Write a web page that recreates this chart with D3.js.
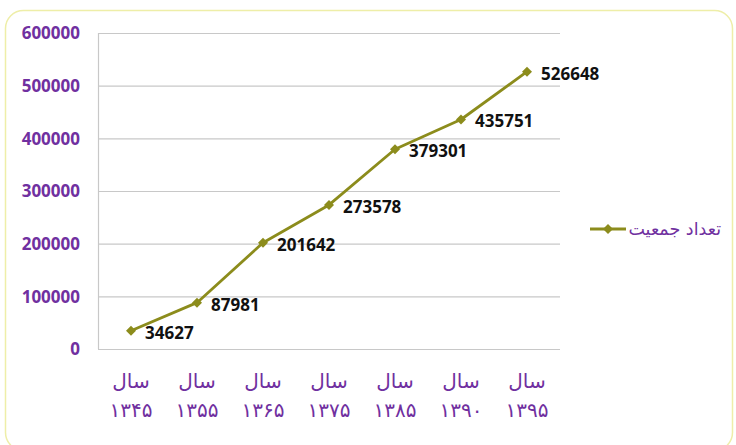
<!DOCTYPE html>
<html><head><meta charset="utf-8">
<script src="https://cdn.jsdelivr.net/npm/d3@7"></script>
<style>
html,body{margin:0;padding:0;background:#fff;}
</style></head>
<body>
<svg id="c" width="736" height="445"></svg>
<script>
const years = ["۱۳۴۵","۱۳۵۵","۱۳۶۵","۱۳۷۵","۱۳۸۵","۱۳۹۰","۱۳۹۵"];
const yearPrefix = "سال";
const population = [34627, 87981, 201642, 273578, 379301, 435751, 526648];
const yTicks = [0, 100000, 200000, 300000, 400000, 500000, 600000];
const seriesName = "تعداد جمعیت";

const svg = d3.select("#c");
const purple = "#7030a0", olive = "#8c8c1c";
const numFont = "'Open Sans', 'Liberation Sans', sans-serif";

svg.append("rect").attr("x",5.5).attr("y",10.5).attr("width",727).attr("height",440)
  .attr("rx",18).attr("fill","#fff").attr("stroke","#eeeea8").attr("stroke-width",1.5);

const x = d3.scaleBand().domain(years).range([98,560]);
const y = d3.scaleLinear().domain([0,600000]).range([349,33]);

// gridlines
svg.append("g").selectAll("line").data(yTicks).join("line")
  .attr("x1",98).attr("x2",560).attr("y1",d=>y(d)+0.5).attr("y2",d=>y(d)+0.5)
  .attr("stroke","#c8c8c8").attr("stroke-width",1.2);
svg.append("line").attr("x1",98.5).attr("x2",98.5).attr("y1",y(600000)).attr("y2",y(0))
  .attr("stroke","#c8c8c8").attr("stroke-width",1.2);

// y axis labels
const yAxis = d3.axisLeft(y).tickValues(yTicks).tickFormat(d=>String(d)).tickSize(0).tickPadding(18);
const ga = svg.append("g").attr("transform","translate(98,0)").call(yAxis);
ga.select(".domain").remove();
ga.selectAll("text").attr("fill",purple).attr("font-family",numFont)
  .attr("font-size",17).attr("font-weight","bold").attr("dy","0.35em");

// x axis labels
const gx = svg.append("g");
gx.selectAll("text.l1").data(years).join("text").attr("class","l1")
  .attr("x",d=>x(d)+x.bandwidth()/2).attr("y",381).attr("dy","0.35em")
  .attr("text-anchor","middle").attr("fill",purple)
  .attr("font-family","'DejaVu Sans', sans-serif").attr("font-size",20).text(yearPrefix);
gx.selectAll("text.l2").data(years).join("text").attr("class","l2")
  .attr("x",d=>x(d)+x.bandwidth()/2).attr("y",410).attr("dy","0.35em")
  .attr("text-anchor","middle").attr("fill",purple)
  .attr("font-family","'DejaVu Sans', sans-serif").attr("font-size",20).text(d=>d);

// line
const data = years.map((yr,i)=>({yr, v:population[i]}));
const line = d3.line().x(d=>x(d.yr)+x.bandwidth()/2).y(d=>y(d.v));
svg.append("path").datum(data).attr("d",line).attr("fill","none")
  .attr("stroke",olive).attr("stroke-width",2.8).attr("stroke-linejoin","round");

const diamond = d3.symbol().type(d3.symbolSquare).size(50);
svg.append("g").selectAll("path").data(data).join("path")
  .attr("d",diamond).attr("transform",d=>`translate(${x(d.yr)+x.bandwidth()/2},${y(d.v)}) rotate(45)`)
  .attr("fill",olive);

svg.append("g").selectAll("text").data(data).join("text")
  .attr("x",d=>x(d.yr)+x.bandwidth()/2+14).attr("y",d=>y(d.v)+2).attr("dy","0.35em")
  .attr("font-family",numFont).attr("font-size",17).attr("font-weight","bold")
  .attr("fill","#111").text(d=>d.v);

// legend
svg.append("line").attr("x1",590).attr("x2",626).attr("y1",229).attr("y2",229)
  .attr("stroke",olive).attr("stroke-width",3);
svg.append("path").attr("d",diamond).attr("transform","translate(608,229) rotate(45)").attr("fill",olive);
svg.append("text").attr("x",721).attr("y",229).attr("dy","0.35em").attr("text-anchor","end")
  .attr("fill",purple).attr("font-family","'DejaVu Sans', sans-serif").attr("font-size",17.5)
  .text(seriesName);
</script>
</body></html>
